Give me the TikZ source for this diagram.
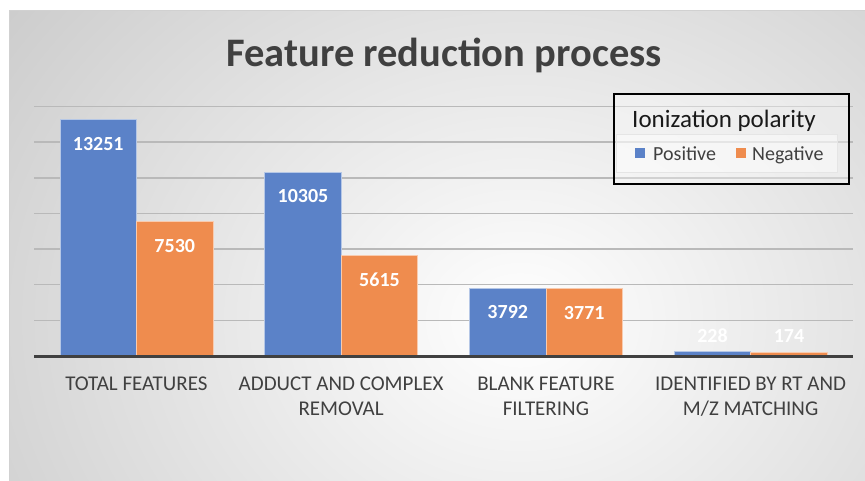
\documentclass[tikz,border=0pt]{standalone}
\usepackage{fontspec}
\setmainfont{Carlito}
\definecolor{posblue}{RGB}{91,130,200}
\definecolor{negorange}{RGB}{239,140,78}
\definecolor{txtgray}{RGB}{64,64,64}
\definecolor{gridgray}{RGB}{185,185,185}
\definecolor{bgedge}{RGB}{190,190,190}
\tikzset{
  posbar/.style={fill=posblue, draw=white!55!posblue, line width=1pt},
  negbar/.style={fill=negorange, draw=white!55!negorange, line width=1pt},
  vallabel/.style={text=white, font=\fontsize{20}{22}\selectfont\bfseries, anchor=base, inner sep=0pt},
  catlabel/.style={text=txtgray, font=\fontsize{21}{25}\selectfont, anchor=base, inner sep=0pt},
  gridline/.style={draw=gridgray, line width=1.5pt},
  legtext/.style={text=txtgray, font=\fontsize{20}{24}\selectfont, anchor=base west, inner sep=0pt},
}
\begin{document}
\begin{tikzpicture}[x=1pt, y=-1pt]
\useasboundingbox (0,0) rectangle (865,480);
% chart area with soft radial background
\begin{scope}
  \clip (9,10) rectangle (865,480);
  \fill[bgedge] (9,10) rectangle (865,480);
  \shade[inner color=white, outer color=bgedge] (520,320) ellipse [x radius=820pt, y radius=680pt];
\end{scope}
\draw[black!18, line width=1pt] (9,480) -- (9,10) -- (865,10);

% horizontal gridlines every 2000 features
\foreach \k in {1,...,7} {
  \draw[gridline] (34,{356-\k*35.63}) -- (853,{356-\k*35.63});
}

% bars: value scale 0.017815 px per feature
\def\sc{0.017815}
\foreach \i/\p/\n in {0/13251/7530, 1/10305/5615, 2/3792/3771, 3/228/174} {
  \pgfmathsetmacro{\xl}{34+\i*204.75}
  \draw[posbar] ({\xl+26},356) rectangle ({\xl+102.5},{356-\p*\sc});
  \draw[negbar] ({\xl+102.5},356) rectangle ({\xl+179},{356-\n*\sc});
}

% axis line
\draw[txtgray, line width=3pt] (34,356.5) -- (853,356.5);

% value labels
\node[vallabel] (v1p) at (98.25,150) {13251};
\node[vallabel] (v1n) at (174.75,252) {7530};
\node[vallabel] (v2p) at (303,202.5) {10305};
\node[vallabel] (v2n) at (379.5,286) {5615};
\node[vallabel] (v3p) at (507.75,318.5) {3792};
\node[vallabel] (v3n) at (584.25,319) {3771};
\node[vallabel] (v4p) at (712.5,342.5) {228};
\node[vallabel] (v4n) at (789,342.5) {174};

% category labels, one node per line
\node[catlabel] (c1) at (136.4,390) {TOTAL FEATURES};
\node[catlabel] (c2a) at (341.1,390) {ADDUCT AND COMPLEX};
\node[catlabel] (c2b) at (341.1,415) {REMOVAL};
\node[catlabel] (c3a) at (545.9,390) {BLANK FEATURE};
\node[catlabel] (c3b) at (545.9,415) {FILTERING};
\node[catlabel] (c4a) at (750.6,390) {IDENTIFIED BY RT AND};
\node[catlabel] (c4b) at (750.6,415) {M/Z MATCHING};

% title
\node[text=txtgray, font=\fontsize{40.5}{46}\selectfont\bfseries, anchor=base, inner sep=0pt] (title) at (444,66) {Feature reduction process};

% legend
\draw[fill=white, fill opacity=0.35, draw=black, line width=1.5pt] (614,94) rectangle (849,184);
\draw[fill=white, fill opacity=0.45, draw=black!10, line width=0.8pt] (616,134) rectangle (837,172);
\node[anchor=base west, inner sep=0pt, text=black!90, font=\fontsize{25}{28}\selectfont] (legtitle) at (632,127) {Ionization polarity};
\fill[posblue] (635,148) rectangle (645,158);
\node[legtext] (legpos) at (653,160) {Positive};
\fill[negorange] (735.5,148) rectangle (745.5,158);
\node[legtext] (legneg) at (752,160) {Negative};
\end{tikzpicture}
\end{document}
